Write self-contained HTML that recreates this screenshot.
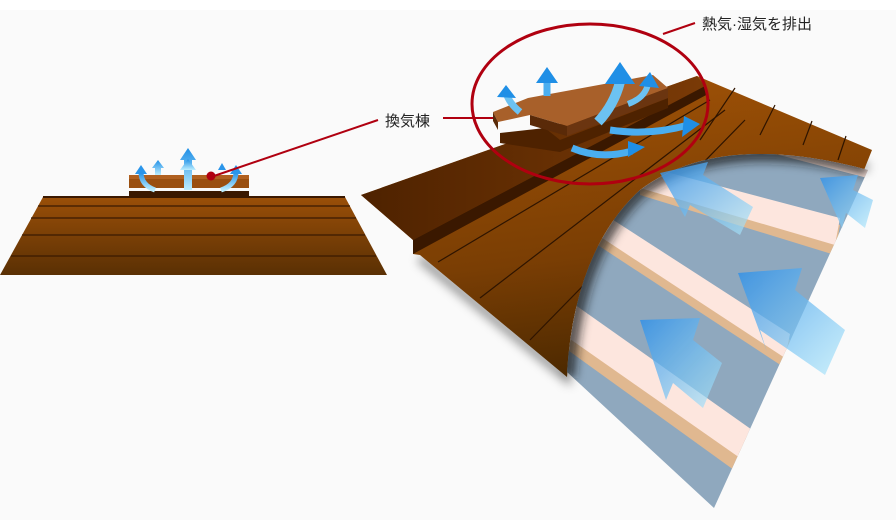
<!DOCTYPE html>
<html><head><meta charset="utf-8"><style>
html,body{margin:0;padding:0;background:#fff;}
svg{display:block;}
text{font-family:"Liberation Sans","Noto Sans CJK JP",sans-serif;}
</style></head><body>
<svg width="896" height="520" viewBox="0 0 896 520" xmlns="http://www.w3.org/2000/svg">
<defs>
<linearGradient id="sroof" x1="0" y1="0" x2="0" y2="1"><stop offset="0" stop-color="#9a4f08"/><stop offset="1" stop-color="#5a3004"/></linearGradient>
<linearGradient id="broof" x1="0.3" y1="0" x2="0.5" y2="1"><stop offset="0" stop-color="#a05206"/><stop offset="0.6" stop-color="#7a3e04"/><stop offset="1" stop-color="#4a2800"/></linearGradient>
<linearGradient id="cap" x1="0" y1="0" x2="1" y2="0"><stop offset="0" stop-color="#4e2200"/><stop offset="1" stop-color="#7a3a06"/></linearGradient>
<linearGradient id="bar" x1="0" y1="0" x2="1" y2="1"><stop offset="0" stop-color="#2e8fe8" stop-opacity=".95"/><stop offset="1" stop-color="#aee8fb" stop-opacity=".75"/></linearGradient>
<linearGradient id="sa" x1="0" y1="1" x2="0" y2="0"><stop offset="0" stop-color="#bdeeff"/><stop offset="1" stop-color="#1f8fe6"/></linearGradient>
<clipPath id="panel"><path d="M868,170 L714,508 L567,372 Q575,250 640,190 Q720,130 868,170 Z"/></clipPath>
<filter id="blur" x="-20%" y="-20%" width="140%" height="140%"><feGaussianBlur stdDeviation="5"/></filter>
</defs>
<rect x="0" y="10" width="896" height="510" fill="#fafafa"/>

<!-- small roof -->
<polygon points="43,197 345,197 387,275 0,275" fill="url(#sroof)"/>
<line x1="43" y1="197" x2="345" y2="197" stroke="#3a1800" stroke-width="2"/>
<g stroke="#3a1a02" stroke-width="1.3">
<line x1="38" y1="206" x2="350" y2="206"/><line x1="31" y1="218" x2="356" y2="218"/><line x1="22" y1="235" x2="365" y2="235"/><line x1="11" y1="256" x2="376" y2="256"/></g>
<rect x="129" y="191" width="120" height="6" fill="#3a1800"/>
<rect x="129" y="175" width="120" height="13" fill="#9a4f10"/>
<rect x="129" y="175" width="120" height="4" fill="#b06020"/>
<g fill="url(#sa)">
<polygon points="184,190 184,160 180,160 188,148 196,160 192,160 192,190"/>
<polygon points="184,170 180,170 188,159 196,170 192,170"/>
<polygon points="155,175 155,168 152,168 158,160 164,168 161,168 161,175"/>
</g>
<path d="M155,190 Q141,185 141,172" stroke="url(#sa)" stroke-width="5" fill="none"/>
<polygon points="135,174 141,165 147,174" fill="#2a95ea"/>
<path d="M221,190 Q236,185 236,172" stroke="url(#sa)" stroke-width="5" fill="none"/>
<polygon points="230,174 236,165 242,174" fill="#2a95ea"/>
<polygon points="218,170 222,163 226,170" fill="#2a95ea"/>
<line x1="211" y1="177" x2="378" y2="120" stroke="#b00010" stroke-width="2"/>
<circle cx="211" cy="176" r="4.5" fill="#b00010"/>
<text x="385" y="126" font-size="15" fill="#222">換気棟</text>
<line x1="443" y1="118" x2="495" y2="118" stroke="#b00010" stroke-width="2"/>

<!-- big roof shadow -->
<path d="M420,258 L567,378 Q575,250 640,190 Q720,130 868,168" stroke="#000" stroke-opacity=".45" stroke-width="8" fill="none" filter="url(#blur)"/>
<!-- big roof -->
<path d="M361,195 L697,76 L872,150 L864,170 Q720,130 640,190 Q575,250 567,377 L420,255 L413,254 L413,240 Z" fill="url(#broof)"/>
<!-- cap flashing -->
<polygon points="361,195 697,76 705,86 413,240" fill="url(#cap)"/>
<polygon points="413,240 705,86 708,94 413,254" fill="#3a1800"/>
<g stroke="#2e1400" stroke-width="1.2" fill="none">
<line x1="438" y1="262" x2="710" y2="100"/>
<line x1="480" y1="298" x2="725" y2="110"/>
<line x1="530" y1="340" x2="745" y2="120"/>
<line x1="735" y1="88" x2="700" y2="140"/>
<line x1="775" y1="105" x2="760" y2="135"/>
<line x1="812" y1="121" x2="803" y2="145"/>
<line x1="846" y1="136" x2="838" y2="160"/>
</g>
<!-- panel -->
<g clip-path="url(#panel)">
<rect x="560" y="120" width="320" height="400" fill="#8fa8be"/>
<polygon points="540,285 755,440 745,478 540,330" fill="#e0b890"/>
<polygon points="540,280 755,432 750,465 540,318" fill="#fde6de"/>
<polygon points="590,210 790,340 785,368 590,240" fill="#e0b890"/>
<polygon points="590,205 790,334 785,358 590,230" fill="#fde6de"/>
<polygon points="640,170 840,225 835,255 640,195" fill="#e0b890"/>
<polygon points="640,165 840,218 835,245 640,188" fill="#fde6de"/>
<polygon points="760,135 880,165 875,180 760,150" fill="#fde6de"/>
<path d="M567,378 Q575,250 640,190 Q720,130 868,168" stroke="#1a1a1a" stroke-opacity=".75" stroke-width="16" fill="none" filter="url(#blur)"/>
</g>
<!-- big arrows -->
<g fill="url(#bar)" opacity=".85">
<polygon points="640,320 700,318 693,340 722,363 703,408 673,383 666,400"/>
<polygon points="738,273 802,268 795,290 845,330 825,375 760,330 767,352"/>
<polygon points="660,173 708,162 703,175 753,207 740,235 690,205 685,217"/>
<polygon points="820,178 858,175 853,190 873,200 865,228 846,213 842,228"/>
</g>
<!-- ridge vent -->
<polygon points="500,133 545,128 560,140 668,98 668,108 560,152 500,143" fill="#4e2200"/>
<polygon points="493,112 528,98 653,75 668,88 567,126 530,115 498,122" fill="#a8602a"/>
<polygon points="530,115 567,126 567,136 530,125" fill="#5a2a08"/>
<polygon points="567,126 668,88 668,98 567,136" fill="#6b3510"/>
<polygon points="493,112 498,122 498,130 493,121" fill="#5a2a08"/>
<!-- small blue arrows -->
<g fill="none">
<path d="M598,122 Q614,105 620,82" stroke="#6cc2f2" stroke-width="10"/>
<path d="M628,104 Q645,98 648,84" stroke="#6cc2f2" stroke-width="6"/>
<path d="M610,130 Q650,136 688,125" stroke="#4aaef0" stroke-width="7"/>
<path d="M572,148 Q600,160 632,151" stroke="#4aaef0" stroke-width="7"/>
<path d="M520,112 Q508,102 506,92" stroke="#6cc2f2" stroke-width="7"/>
<path d="M547,96 L547,80" stroke="#4aaef0" stroke-width="7"/>
</g>
<g fill="#1f8fe6">
<polygon points="605,84 620,62 635,84"/>
<polygon points="639,86 650,72 659,88"/>
<polygon points="684,116 700,124 682,137"/>
<polygon points="628,141 645,147 628,157"/>
<polygon points="497,97 506,85 516,98"/>
<polygon points="536,83 547,67 558,83"/>
</g>
<!-- red ellipse -->
<ellipse cx="590" cy="104" rx="118" ry="80" fill="none" stroke="#b00010" stroke-width="3"/>
<line x1="663" y1="34" x2="695" y2="23" stroke="#b00010" stroke-width="2"/>
<text x="702" y="29" font-size="15" fill="#222">熱気·湿気を排出</text>
</svg>
</body></html>
